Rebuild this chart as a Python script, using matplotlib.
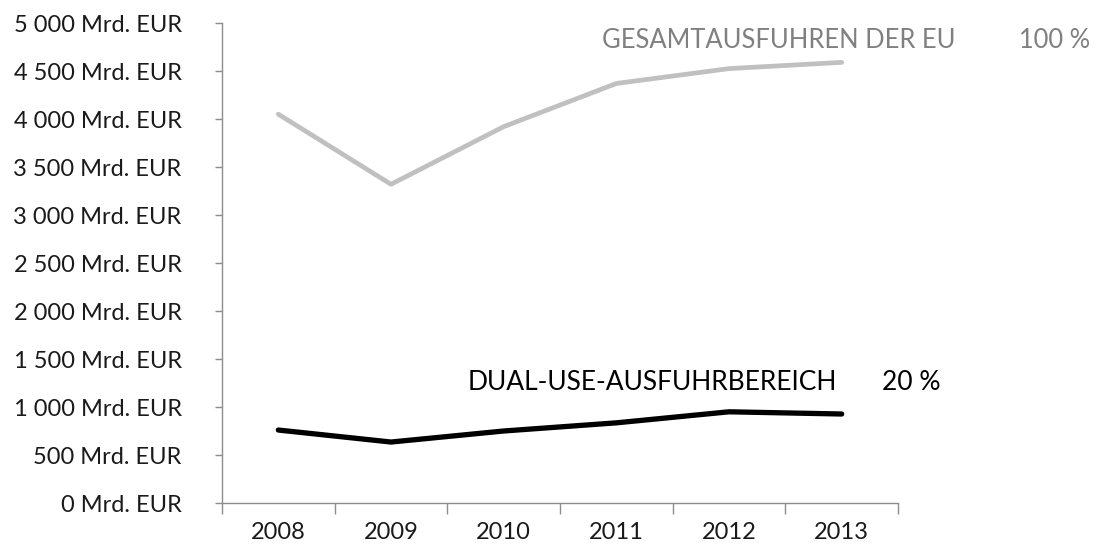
import matplotlib
matplotlib.use("Agg")
import matplotlib.pyplot as plt
from matplotlib.ticker import FuncFormatter, MultipleLocator, FixedLocator

plt.rcParams['font.family'] = ['Lato', 'DejaVu Sans']

years = ['2008', '2009', '2010', '2011', '2012', '2013']
total_exports = [4050, 3320, 3920, 4370, 4525, 4590]
dual_use = [760, 635, 750, 835, 950, 927]
total_label = 'GESAMTAUSFUHREN DER EU'
total_share = '100 %'
dual_label = 'DUAL-USE-AUSFUHRBEREICH'
dual_share = '20 %'

fig = plt.figure(figsize=(11.03, 5.5), dpi=100)
ax = fig.add_axes([222 / 1103, 47 / 550, 676 / 1103, 480 / 550])

x = list(range(len(years)))
ax.plot(x, total_exports, color='#c0c0c0', lw=3.4, solid_capstyle='round')
ax.plot(x, dual_use, color='black', lw=3.8, solid_capstyle='round')

ax.set_xlim(-0.5, len(years) - 0.5)
ax.set_ylim(0, 5000)

ax.yaxis.set_major_locator(MultipleLocator(500))
ax.yaxis.set_major_formatter(FuncFormatter(
    lambda v, p: '{:,.0f} Mrd. EUR'.format(v).replace(',', ' ')))

ax.set_xticks(x)
ax.set_xticklabels(years)
ax.xaxis.set_minor_locator(FixedLocator([i - 0.5 for i in range(len(years) + 1)]))
ax.tick_params(axis='x', which='major', length=0, pad=14, labelsize=17, labelcolor='#1a1a1a')
ax.tick_params(axis='x', which='minor', length=8, width=1, color='#8c8c8c')
ax.tick_params(axis='y', length=5, width=1, color='#8c8c8c', pad=24,
               labelsize=17, labelcolor='#1a1a1a')

for s in ['top', 'right']:
    ax.spines[s].set_visible(False)
for s in ['left', 'bottom']:
    ax.spines[s].set_color('#8c8c8c')
    ax.spines[s].set_linewidth(1)

ax.text(2.876, 4820, total_label, color='#808080', fontsize=18.4, va='center', ha='left')
ax.text(6.57, 4820, total_share, color='#808080', fontsize=18.4, va='center', ha='left', clip_on=False)
ax.text(1.68, 1250, dual_label, color='black', fontsize=19, va='center', ha='left')
ax.text(5.36, 1250, dual_share, color='black', fontsize=19, va='center', ha='left', clip_on=False)

fig.savefig('out.png', dpi=100, facecolor='white')
